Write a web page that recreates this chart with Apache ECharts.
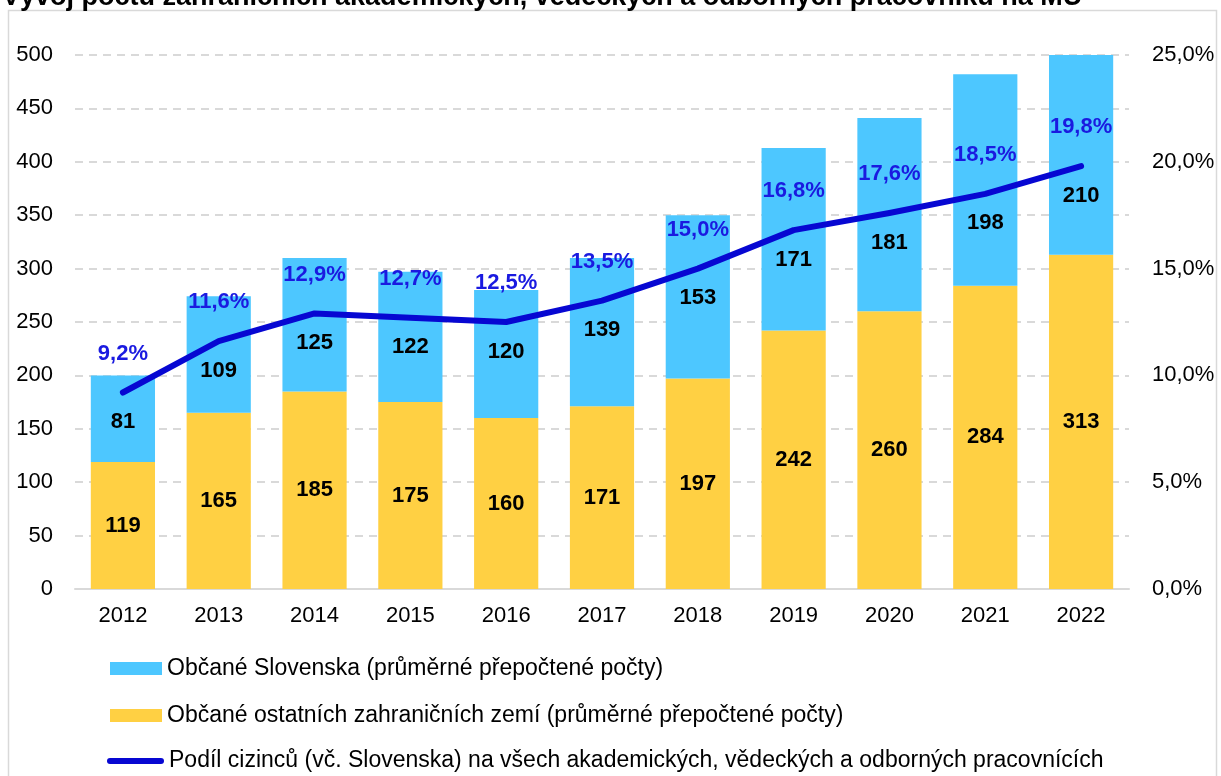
<!DOCTYPE html>
<html>
<head>
<meta charset="utf-8">
<script src="https://cdn.jsdelivr.net/npm/echarts@6/dist/echarts.min.js"></script>
<style>
  html, body { margin: 0; padding: 0; background: #fff; }
  #chart { width: 1221px; height: 776px; }
</style>
</head>
<body>
<div id="chart"></div>
<script>
// data
const years = ['2012', '2013', '2014', '2015', '2016', '2017', '2018', '2019', '2020', '2021', '2022']
const slovensko = [81, 109, 125, 122, 120, 139, 153, 171, 181, 198, 210]
const ostatni = [119, 165, 185, 175, 160, 171, 197, 242, 260, 284, 313]
const podil = [9.2, 11.6, 12.9, 12.7, 12.5, 13.5, 15.0, 16.8, 17.6, 18.5, 19.8]

const nameSk = 'Občané Slovenska (průměrné přepočtené počty)'
const nameOst = 'Občané ostatních zahraničních zemí (průměrné přepočtené počty)'
const namePodil = 'Podíl cizinců (vč. Slovenska) na všech akademických, vědeckých a odborných pracovnících'

const font = 'Liberation Sans, Arial, sans-serif'
const lineColor = '#0707d2'
const fmtPct = v => v.toFixed(1).replace('.', ',') + '%'

let myChart = echarts.init(document.getElementById('chart'))

const legendBase = {
  orient: 'vertical',
  padding: 0,
  itemGap: 0,
  textStyle: { fontFamily: font, fontSize: 23, color: '#000' }
}

const boldLabel = {
  fontFamily: font,
  fontSize: 22,
  fontWeight: 'bold'
}

let option = {
  animation: false,
  graphic: [
    {
      type: 'rect',
      shape: { x: 8.5, y: 10.5, width: 1208, height: 800 },
      style: { fill: 'none', stroke: '#d9d9d9', lineWidth: 1.5 }
    },
    {
      type: 'text',
      x: 2,
      y: -2,
      style: {
        text: 'Vývoj počtu zahraničních akademických, vědeckých a odborných pracovníků na MU',
        fontFamily: font,
        fontSize: 27,
        fontWeight: 'bold',
        fill: '#000',
        align: 'left',
        verticalAlign: 'middle'
      }
    }
  ],
  legend: [
    Object.assign({}, legendBase, { left: 110, top: 657, data: [nameSk], icon: 'rect', itemWidth: 52, itemHeight: 13 }),
    Object.assign({}, legendBase, { left: 110, top: 704, data: [nameOst], icon: 'rect', itemWidth: 52, itemHeight: 13 }),
    Object.assign({}, legendBase, {
      left: 107, top: 749.5, data: [namePodil],
      icon: 'path://M3,0 L54,0 A3,3 0 0 1 54,6 L3,6 A3,3 0 0 1 3,0 Z',
      itemWidth: 57, itemHeight: 6
    })
  ],
  grid: {
    left: 75,
    right: 92,
    top: 55,
    height: 534
  },
  xAxis: {
    type: 'category',
    data: years,
    axisTick: { show: false },
    axisLine: { lineStyle: { color: '#d9d9d9', width: 2 } },
    axisLabel: { fontFamily: font, fontSize: 22, color: '#000', margin: 16 }
  },
  yAxis: [
    {
      type: 'value',
      min: 0,
      max: 500,
      interval: 50,
      axisLine: { show: false },
      axisTick: { show: false },
      splitLine: { lineStyle: { color: '#d9d9d9', type: [8, 6], width: 2 } },
      axisLabel: { fontFamily: font, fontSize: 22, color: '#000', margin: 22 }
    },
    {
      type: 'value',
      min: 0,
      max: 25,
      interval: 5,
      axisLine: { show: false },
      axisTick: { show: false },
      splitLine: { show: false },
      axisLabel: {
        fontFamily: font, fontSize: 22, color: '#000', margin: 23,
        formatter: v => fmtPct(v)
      }
    }
  ],
  series: [
    {
      name: nameOst,
      type: 'bar',
      stack: 'total',
      barWidth: '67%',
      data: ostatni,
      itemStyle: { color: '#ffd043' },
      label: Object.assign({ show: true, position: 'inside', color: '#000' }, boldLabel)
    },
    {
      name: nameSk,
      type: 'bar',
      stack: 'total',
      data: slovensko,
      itemStyle: { color: '#4dc7ff' }
    },
    {
      name: namePodil,
      type: 'line',
      yAxisIndex: 1,
      data: podil,
      symbol: 'circle',
      symbolSize: 2,
      itemStyle: { color: lineColor },
      lineStyle: { color: lineColor, width: 6, cap: 'round', join: 'round' },
      label: Object.assign({
        show: true,
        position: 'top',
        distance: 27,
        color: '#1a1ae0',
        formatter: p => fmtPct(p.value)
      }, boldLabel),
      z: 5
    },
    {
      // Slovak counts, labelled just under the share line as in the source
      name: 'sk-labels',
      type: 'line',
      yAxisIndex: 1,
      data: podil,
      symbol: 'circle',
      symbolSize: 1,
      itemStyle: { color: 'rgba(0,0,0,0)' },
      lineStyle: { opacity: 0 },
      silent: true,
      label: Object.assign({
        show: true,
        position: 'bottom',
        distance: 18,
        color: '#000',
        formatter: p => String(slovensko[p.dataIndex])
      }, boldLabel),
      z: 6
    }
  ]
}

myChart.setOption(option, true)
</script>
</body>
</html>
